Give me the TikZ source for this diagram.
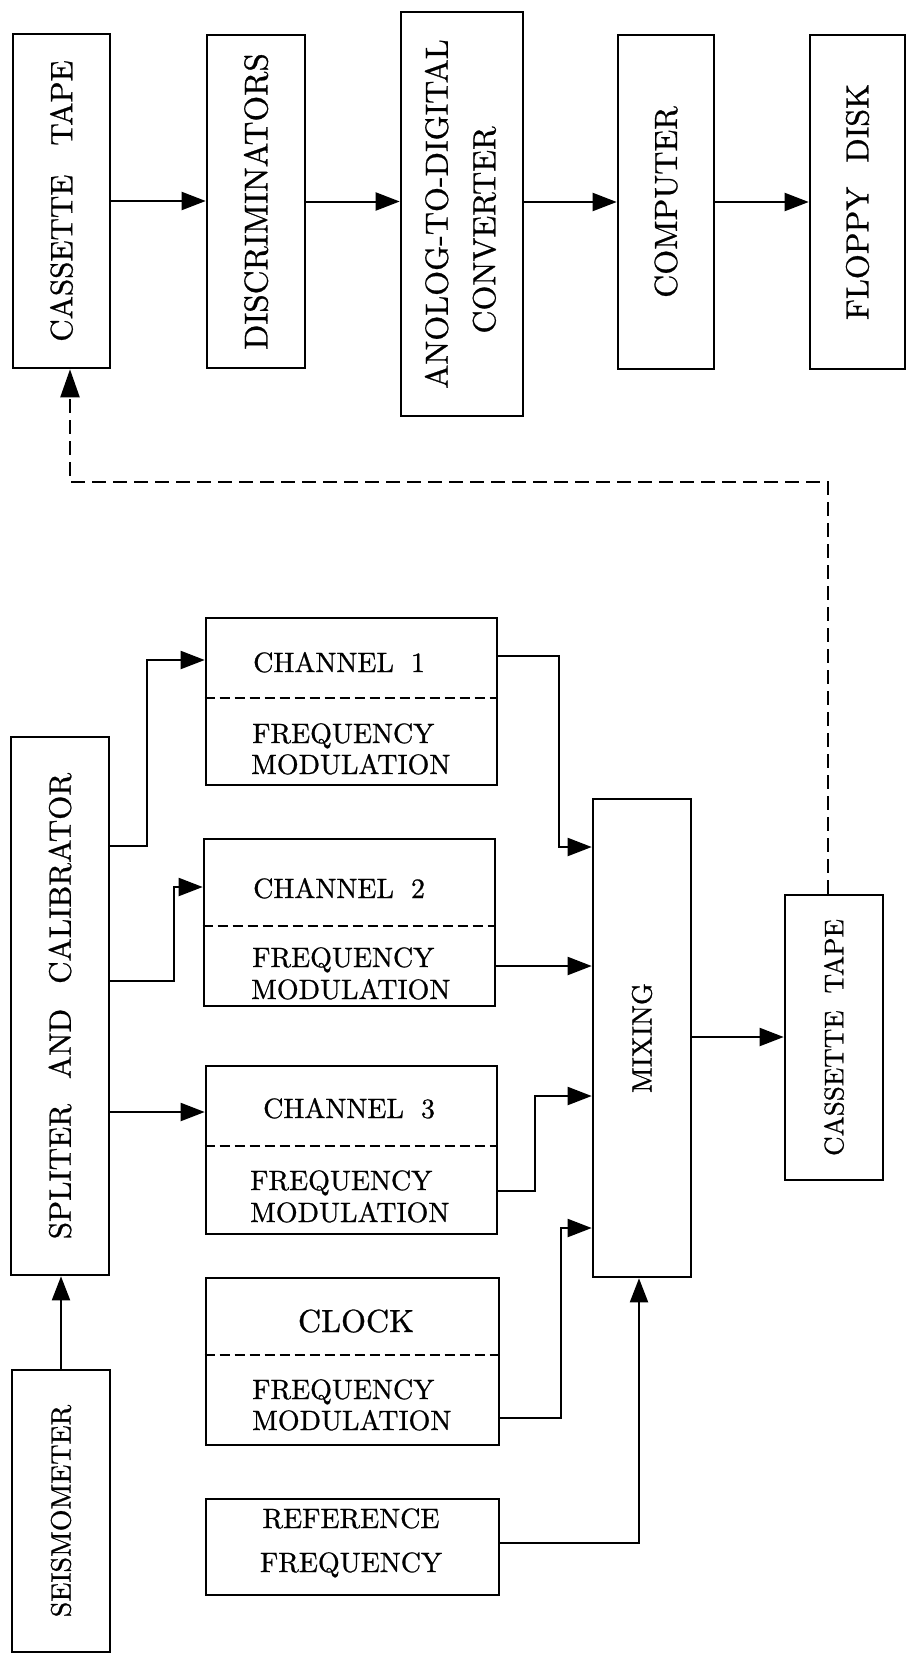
\documentclass[tikz,border=0pt]{standalone}
\usepackage{fontspec}
\usepackage{graphicx}
\usetikzlibrary{arrows.meta}

% 10pt design of Latin Modern at every size, slightly heavier
\setmainfont{lmroman10-regular.otf}[FakeBold=0.8]

% text turned to read from bottom to top, size given in pt
\newcommand{\uptext}[2]{\rotatebox{90}{\fontsize{#1pt}{#1pt}\selectfont #2}}

\tikzset{
  box/.style={draw, line width=2.6pt, inner sep=0pt},
  conn/.style={line width=2pt},
  arr/.style={conn, -{Triangle[length=24pt,width=18pt]}},
  darr/.style={line width=2.2pt, dash pattern=on 14pt off 7pt,
               -{Triangle[length=28pt,width=19pt]}},
  divider/.style={line width=2.4pt, dash pattern=on 10pt off 5pt},
  lbl/.style={inner sep=0pt, anchor=base west, font=\fontsize{28pt}{32pt}\selectfont},
  clbl/.style={inner sep=0pt, anchor=base, font=\fontsize{28pt}{32pt}\selectfont},
}

\begin{document}
\begin{tikzpicture}[x=1pt, y=-1pt]
  \useasboundingbox (0,0) rectangle (907,1654);
  \fill[white] (0,0) rectangle (907,1654);

  % ---------- playback chain ----------
  \node[box, minimum width=97pt, minimum height=334pt] (cas1) at (61.5,201)
    {\uptext{31}{CASSETTE\hspace{29pt}TAPE}};
  \node[box, minimum width=98pt, minimum height=333pt] (disc) at (256,201.5)
    {\uptext{33}{DISCRIMINATORS}};
  \node[box, minimum width=122pt, minimum height=404pt] (adc) at (462,214)
    {\rotatebox{90}{\fontsize{32pt}{47.5pt}\selectfont
      \begin{tabular}{@{}c@{}}ANOLOG-TO-DIGITAL\\\hspace*{-32pt}CONVERTER\end{tabular}}};
  \node[box, minimum width=96pt, minimum height=334pt] (comp) at (666,202)
    {\uptext{32}{COMPUTER}};
  \node[box, minimum width=95pt, minimum height=334pt] (flop) at (857.5,202)
    {\uptext{32}{FLOPPY\hspace{24pt}DISK}};

  \draw[arr] (cas1.east) -- (cas1.east -| disc.west);
  \draw[arr] (disc.east) -- (disc.east -| adc.west);
  \draw[arr] (adc.east |- comp.west) -- (comp.west);
  \draw[arr] (comp.east) -- (comp.east -| flop.west);

  % ---------- recording chain ----------
  \node[box, minimum width=98pt, minimum height=538pt] (split) at (60,1006)
    {\uptext{31}{SPLITER\hspace{25pt}AND\hspace{25pt}CALIBRATOR}};
  \node[box, minimum width=98pt, minimum height=282pt] (seis) at (61,1511)
    {\uptext{28}{SEISMOMETER}};

  \node[box, minimum width=291pt, minimum height=167pt] (ch1) at (351.5,701.5) {};
  \node[box, minimum width=291pt, minimum height=167pt] (ch2) at (349.5,922.5) {};
  \node[box, minimum width=291pt, minimum height=168pt] (ch3) at (351.5,1150) {};
  \node[box, minimum width=293pt, minimum height=167pt] (clk) at (352.5,1361.5) {};
  \node[box, minimum width=293pt, minimum height=96pt]  (ref) at (352.5,1547) {};

  \node[box, minimum width=98pt, minimum height=478pt] (mix) at (642,1038)
    {\uptext{28}{MIXING}};
  \node[box, minimum width=98pt, minimum height=285pt] (cas2) at (834,1037.5)
    {\uptext{27}{CASSETTE\hspace{17pt}TAPE}};

  % dashed separators inside the modulator boxes
  \draw[divider] (ch1.west |- 0,698)  -- (ch1.east |- 0,698);
  \draw[divider] (ch2.west |- 0,926)  -- (ch2.east |- 0,926);
  \draw[divider] (ch3.west |- 0,1146) -- (ch3.east |- 0,1146);
  \draw[divider] (clk.west |- 0,1355) -- (clk.east |- 0,1355);

  % box texts
  \node[lbl] (ch1a) at (253,672) {CHANNEL\hspace{17pt}1};
  \node[lbl] (ch1b) at (252,743) {FREQUENCY};
  \node[lbl] (ch1c) at (251,774) {MODULATION};

  \node[lbl] (ch2a) at (253,898) {CHANNEL\hspace{17pt}2};
  \node[lbl] (ch2b) at (252,967) {FREQUENCY};
  \node[lbl] (ch2c) at (251,999) {MODULATION};

  \node[lbl] (ch3a) at (263,1118) {CHANNEL\hspace{17pt}3};
  \node[lbl] (ch3b) at (250,1190) {FREQUENCY};
  \node[lbl] (ch3c) at (250,1222) {MODULATION};

  \node[clbl, font=\fontsize{32pt}{36pt}\selectfont] (clka) at (356,1332) {CLOCK};
  \node[lbl] (clkb) at (252,1399) {FREQUENCY};
  \node[lbl] (clkc) at (252,1430) {MODULATION};

  \node[clbl] (refa) at (351,1528) {REFERENCE};
  \node[clbl] (refb) at (351,1572) {FREQUENCY};

  % connectors
  \draw[arr] (seis.north) -- (seis.north |- split.south);

  \draw[arr] (split.east |- 0,846) -- ++(37,0) |- (ch1.west |- 0,660);
  \draw[arr] (split.east |- 0,981) -- ++(64,0) |- (ch2.west |- 0,887);
  \draw[arr] (split.east |- 0,1112) -- (ch3.west |- 0,1112);

  \draw[arr] (ch1.east |- 0,656)  -- ++(61,0) |- (mix.west |- 0,847);
  \draw[arr] (ch2.east |- 0,966)  -- (mix.west |- 0,966);
  \draw[arr] (ch3.east |- 0,1191) -- ++(37,0) |- (mix.west |- 0,1096);
  \draw[arr] (clk.east |- 0,1418) -- ++(61,0) |- (mix.west |- 0,1228);
  \draw[arr] (ref.east |- 0,1543) -| ([xshift=-3pt]mix.south);

  \draw[arr] (mix.east |- 0,1037) -- (cas2.west |- 0,1037);

  % tape carried back to the playback deck
  \coordinate (bend) at (70,482);
  \draw[darr] ([xshift=-6pt]cas2.north) |- (bend) -- (bend |- cas1.south);
\end{tikzpicture}
\end{document}
